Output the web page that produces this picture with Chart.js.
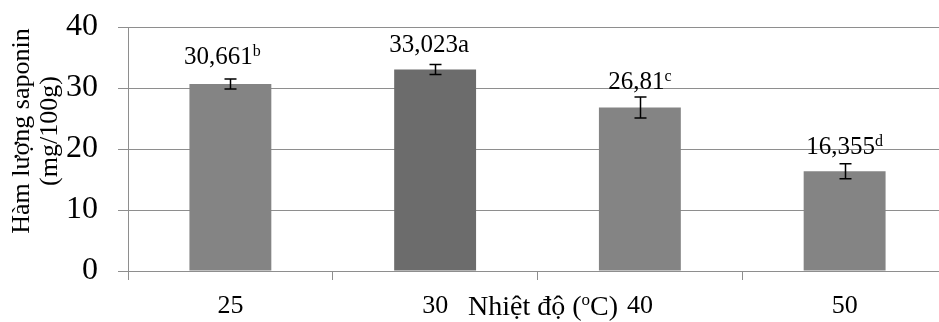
<!DOCTYPE html>
<html lang="vi">
<head>
<meta charset="UTF-8">
<title>Hàm lượng saponin theo nhiệt độ</title>
<script src="https://cdn.jsdelivr.net/npm/chart.js"></script>
<style>
  html, body { margin: 0; padding: 0; background: #fff; overflow: hidden; }
  #wrap { width: 950px; height: 322px; }
</style>
</head>
<body>
<div id="wrap"><canvas id="myChart" width="950" height="322"></canvas></div>
<script>
    // data
    const temps = ['25', '30', '40', '50'];
    const saponin = [30.661, 33.023, 26.81, 16.355];
    const errors = [0.82, 0.82, 1.72, 1.23];
    const valueLabels = ['30,661', '33,023a', '26,81', '16,355'];
    const letters = ['b', '', 'c', 'd'];   // superscript letters
    const yTicks = [0, 10, 20, 30, 40];

    const barColors = ['#848484', '#6c6c6c', '#848484', '#848484'];
    const labelShift = [[-8, -4], [-6, -2], [0, 3], [0, 1]];
    const serif = "'Liberation Serif', 'Times New Roman', serif";
    const gridColor = '#8e8e8e';

    // error bars
    const errorBars = {
        id: 'errorBars',
        afterDatasetsDraw(chart) {
            const ctx = chart.ctx;
            const yScale = chart.scales.y;
            const meta = chart.getDatasetMeta(0);
            ctx.save();
            ctx.strokeStyle = '#000';
            ctx.lineWidth = 1.5;
            meta.data.forEach(function (bar, i) {
                const top = yScale.getPixelForValue(saponin[i] + errors[i]);
                const bot = yScale.getPixelForValue(saponin[i] - errors[i]);
                const x = Math.round(bar.x) + 0.5;
                ctx.beginPath();
                ctx.moveTo(x, top); ctx.lineTo(x, bot);
                ctx.moveTo(x - 6, top); ctx.lineTo(x + 6, top);
                ctx.moveTo(x - 6, bot); ctx.lineTo(x + 6, bot);
                ctx.stroke();
            });
            ctx.restore();
        }
    };

    // value labels with superscript letters
    const valueText = {
        id: 'valueText',
        afterDatasetsDraw(chart) {
            const ctx = chart.ctx;
            const yScale = chart.scales.y;
            const meta = chart.getDatasetMeta(0);
            ctx.save();
            ctx.fillStyle = '#000';
            ctx.textBaseline = 'alphabetic';
            ctx.textAlign = 'left';
            meta.data.forEach(function (bar, i) {
                ctx.font = '25px ' + serif;
                const w1 = ctx.measureText(valueLabels[i]).width;
                ctx.font = '16px ' + serif;
                const w2 = letters[i] ? ctx.measureText(letters[i]).width : 0;
                const x0 = bar.x - (w1 + w2) / 2 + labelShift[i][0];
                const base = yScale.getPixelForValue(saponin[i] + errors[i]) - 11 + labelShift[i][1];
                ctx.font = '25px ' + serif;
                ctx.fillText(valueLabels[i], x0, base);
                if (letters[i]) {
                    ctx.font = '16px ' + serif;
                    ctx.fillText(letters[i], x0 + w1, base - 8);
                }
            });
            ctx.restore();
        }
    };

    // axis titles (x title sits in the tick label row, like the original)
    const axisTitles = {
        id: 'axisTitles',
        afterDraw(chart) {
            const ctx = chart.ctx;
            const area = chart.chartArea;
            ctx.save();
            ctx.fillStyle = '#000';
            ctx.textBaseline = 'alphabetic';
            ctx.textAlign = 'left';

            ctx.font = '28px ' + serif;
            const a = 'Nhiệt độ (', c = 'C)';
            const wa = ctx.measureText(a).width;
            const wc = ctx.measureText(c).width;
            ctx.font = '17px ' + serif;
            const wo = ctx.measureText('o').width;
            let x = 543 - (wa + wo + wc) / 2;
            const base = area.bottom + 44;
            ctx.font = '28px ' + serif;
            ctx.fillText(a, x, base);
            ctx.font = '17px ' + serif;
            ctx.fillText('o', x + wa, base - 10);
            ctx.font = '28px ' + serif;
            ctx.fillText(c, x + wa + wo, base);

            ctx.translate(0, (area.top + area.bottom) / 2 - 18);
            ctx.rotate(-Math.PI / 2);
            ctx.textAlign = 'center';
            ctx.textBaseline = 'middle';
            ctx.font = '26px ' + serif;
            ctx.fillText('Hàm lượng saponin', 0, 22);
            ctx.fillText('(mg/100g)', 0, 50);
            ctx.restore();
        }
    };

    const ctx = document.getElementById('myChart').getContext('2d');
    const myChart = new Chart(ctx, {
        type: 'bar',
        data: {
            labels: temps,
            datasets: [{
                data: saponin,
                backgroundColor: barColors,
                borderWidth: 0,
                barPercentage: 0.4,
                categoryPercentage: 1
            }]
        },
        options: {
            responsive: false,
            animation: false,
            layout: { padding: { left: 0, right: 3, top: 27, bottom: 0 } },
            plugins: {
                legend: { display: false },
                tooltip: { enabled: false }
            },
            scales: {
                x: {
                    afterFit: function (scale) {
                        scale.height = 51;
                        scale.paddingLeft = 0;
                        scale.paddingRight = 0;
                    },
                    grid: {
                        offset: true,
                        drawOnChartArea: false,
                        tickLength: 9,
                        color: gridColor
                    },
                    border: { display: true, color: gridColor },
                    ticks: {
                        color: '#000',
                        padding: 11,
                        font: { family: serif, size: 26 }
                    }
                },
                y: {
                    min: 0,
                    max: 40,
                    afterFit: function (scale) {
                        scale.width = 128;
                        scale.paddingTop = 0;
                        scale.paddingBottom = 0;
                    },
                    afterBuildTicks: function (scale) {
                        scale.ticks = yTicks.map(function (v) { return { value: v }; });
                    },
                    grid: { color: gridColor, tickLength: 10 },
                    border: { display: true, color: gridColor },
                    ticks: {
                        color: '#000',
                        padding: 20,
                        font: { family: serif, size: 32 }
                    }
                }
            }
        },
        plugins: [errorBars, valueText, axisTitles]
    });
</script>
</body>
</html>
